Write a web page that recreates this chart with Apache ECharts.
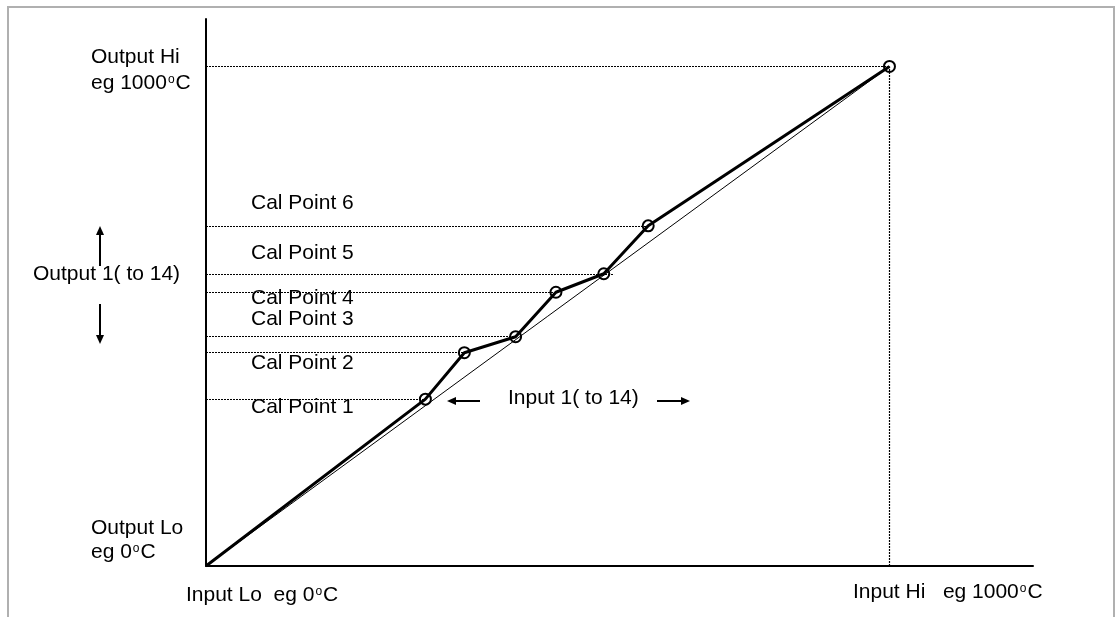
<!DOCTYPE html>
<html><head><meta charset="utf-8">
<script src="https://cdn.jsdelivr.net/npm/echarts@6/dist/echarts.min.js"></script>
<style>html,body{margin:0;padding:0;background:#fff}#c{width:1116px;height:617px}</style>
</head><body><div id="c"></div>
<script>
// ---- data ----
const inputLoHi = [0, 1000];          // Input Lo, Input Hi (eg °C)
const outputLoHi = [0, 1000];         // Output Lo, Output Hi (eg °C)
const calNames = ['Cal Point 1', 'Cal Point 2', 'Cal Point 3', 'Cal Point 4', 'Cal Point 5', 'Cal Point 6'];
const calInput = [321, 378, 453, 512, 582, 647];
const calOutput = [334, 427, 459, 548, 585, 681];
const guideEndInput = [321, 378, 453, 512, 597, 647]; // where each dotted output guide stops
const axisMaxInput = 1210;
const axisMaxOutput = 1095;

// ---- annotation texts (pixel layout) ----
const FONT = "'Liberation Sans', Arial, sans-serif";
const texts = [
  ['Output Hi', 91, 65],
  ['eg 1000°C', 91, 91],
  ['Output 1( to 14)', 33, 282],
  [calNames[5], 251, 211],
  [calNames[4], 251, 261],
  [calNames[3], 251, 306],
  [calNames[2], 251, 327],
  [calNames[1], 251, 371],
  [calNames[0], 251, 415],
  ['Input 1( to 14)', 508, 406],
  ['Output Lo', 91, 536],
  ['eg 0°C', 91, 560],
  ['Input Lo  eg 0°C', 186, 603],
  ['Input Hi   eg 1000°C', 853, 600]
];
function richify(s) {
  const i = s.indexOf('°');
  if (i < 0) return '{a|' + s + '}';
  return '{a|' + s.slice(0, i) + '}{s|o}{a|' + s.slice(i + 1) + '}';
}
const textEls = texts.map(t => ({
  type: 'text', x: t[1], y: t[2] - 7.3, silent: true,
  style: {
    text: richify(t[0]), verticalAlign: 'middle', align: 'left',
    rich: {
      a: { fontSize: 21, fontFamily: FONT, fill: '#000' },
      s: { fontSize: 12, fontFamily: FONT, fill: '#000', verticalAlign: 'top', padding: [0, 1, 0, 1] }
    }
  }
}));
function arrow(x1, y1, x2, y2) {
  const dx = x2 - x1, dy = y2 - y1, L = Math.hypot(dx, dy), ux = dx / L, uy = dy / L;
  const hl = 9, hw = 4;
  const bx = x2 - ux * hl, by = y2 - uy * hl;
  return [
    { type: 'line', silent: true, shape: { x1, y1, x2: bx + ux * 2, y2: by + uy * 2 }, style: { stroke: '#000', lineWidth: 2 } },
    { type: 'polygon', silent: true, shape: { points: [[x2, y2], [bx - uy * hw, by + ux * hw], [bx + uy * hw, by - ux * hw]] }, style: { fill: '#000' } }
  ];
}
const arrows = [].concat(
  arrow(100, 266, 100, 226),
  arrow(100, 304, 100, 344),
  arrow(480, 401, 447, 401),
  arrow(657, 401, 690, 401)
);

const mainData = [[inputLoHi[0], outputLoHi[0]]].concat(
  calInput.map((x, i) => [x, calOutput[i]]),
  [[inputLoHi[1], outputLoHi[1]]]
).map((p, i) => i === 0 ? { value: p, symbol: 'none' } : { value: p });

const guides = calOutput.map((y, i) => [{ coord: [0, y] }, { coord: [guideEndInput[i], y] }]);
guides.push([{ coord: [0, outputLoHi[1]] }, { coord: [inputLoHi[1], outputLoHi[1]] }]);
guides.push([{ coord: [inputLoHi[1], 0] }, { coord: [inputLoHi[1], outputLoHi[1]] }]);

const axisCommon = {
  type: 'value', min: 0, axisLabel: { show: false }, axisTick: { show: false },
  splitLine: { show: false }, axisLine: { show: true, lineStyle: { color: '#000', width: 2 } }
};
const chart = echarts.init(document.getElementById('c'), null, { renderer: 'canvas' });
chart.setOption({
  backgroundColor: '#fff',
  animation: false,
  grid: { left: 206, top: 19, right: 83, bottom: 51, containLabel: false },
  xAxis: Object.assign({}, axisCommon, { max: axisMaxInput }),
  yAxis: Object.assign({}, axisCommon, { max: axisMaxOutput }),
  series: [
    {
      type: 'line', silent: true, symbol: 'none', z: 2,
      data: [[inputLoHi[0], outputLoHi[0]], [inputLoHi[1], outputLoHi[1]]],
      lineStyle: { color: '#000', width: 1 }
    },
    {
      type: 'line', silent: true, z: 3, data: [],
      markLine: {
        silent: true, symbol: ['none', 'none'], label: { show: false },
        lineStyle: { color: '#000', width: 1.2, type: [2, 1] },
        data: guides
      }
    },
    {
      type: 'line', silent: true, z: 4, data: mainData,
      symbol: 'circle', symbolSize: 11, showAllSymbol: true,
      lineStyle: { color: '#000', width: 3 },
      itemStyle: { color: 'rgba(255,255,255,0)', borderColor: '#000', borderWidth: 2 }
    }
  ],
  graphic: [
    { type: 'rect', silent: true, shape: { x: 8, y: 7, width: 1106, height: 1000 }, style: { fill: 'none', stroke: '#b0b0b0', lineWidth: 2 } }
  ].concat(arrows, textEls)
});
</script></body></html>
